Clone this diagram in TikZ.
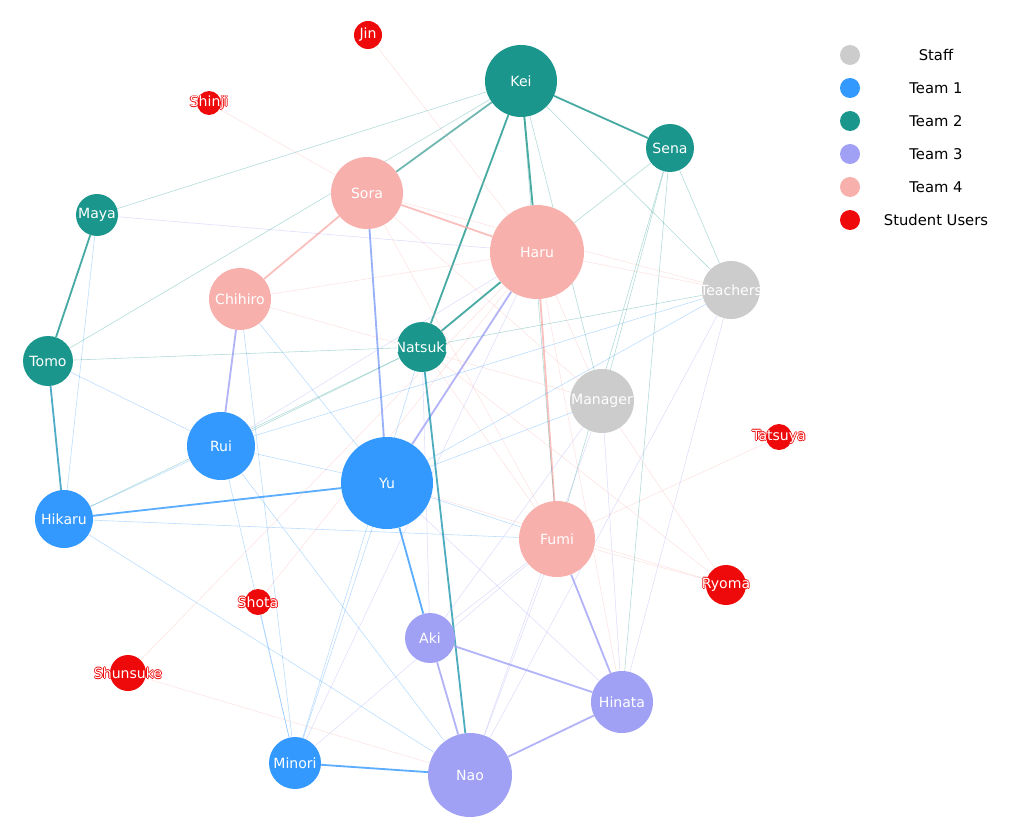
\documentclass[tikz,border=0pt]{standalone}
\usepackage{fontspec}
\setmainfont{DejaVu Sans}
\pgfdeclarelayer{edges}
\pgfsetlayers{edges,main}
\definecolor{staffc}{RGB}{204,204,204}
\definecolor{teamA}{RGB}{51,153,255}
\definecolor{teamB}{RGB}{26,150,140}
\definecolor{teamC}{RGB}{160,160,245}
\definecolor{teamD}{RGB}{248,176,172}
\definecolor{userc}{RGB}{238,10,10}
\tikzset{
  member/.style={circle, draw=none, inner sep=0pt,
    label={[text=white, font=\fontsize{10}{12}\selectfont]center:#1}},
  sz/.style={minimum size=#1*0.5mm},
  staff/.style={member=#1, fill=staffc},
  t1/.style={member=#1, fill=teamA},
  t2/.style={member=#1, fill=teamB},
  t3/.style={member=#1, fill=teamC},
  t4/.style={member=#1, fill=teamD},
  halo/.style={font=\fontsize{10}{12}\selectfont, text=userc},
  usr/.style={circle, draw=none, inner sep=0pt, fill=userc,
    label={[halo, xshift=0.6pt]center:#1},
    label={[halo, xshift=-0.6pt]center:#1},
    label={[halo, yshift=0.6pt]center:#1},
    label={[halo, yshift=-0.6pt]center:#1},
    label={[text=white, font=\fontsize{10}{12}\selectfont]center:#1}},
  tie/.style={line width=1.3pt, draw opacity=0.8},
  weak/.style={line width=0.4pt, draw opacity=0.35},
  key/.style={circle, inner sep=0pt, minimum size=5mm},
  keytext/.style={font=\fontsize{10.5}{12}\selectfont, anchor=center}
}
\begin{document}
\begin{tikzpicture}[x=0.25mm, y=-0.25mm]
  \useasboundingbox (0,0) rectangle (1024,833);

  % members
  \node[usr=Jin, sz=14] (Jin) at (368,35) {};
  \node[usr=Shinji, sz=12] (Shinji) at (209,103) {};
  \node[t2=Kei, sz=36] (Kei) at (521,81) {};
  \node[t2=Sena, sz=24] (Sena) at (670,148) {};
  \node[t4=Sora, sz=36] (Sora) at (367,193) {};
  \node[t2=Maya, sz=21] (Maya) at (97,215) {};
  \node[t4=Haru, sz=47] (Haru) at (537,252) {};
  \node[staff=Teachers, sz=29] (Teachers) at (731,290) {};
  \node[t4=Chihiro, sz=31] (Chihiro) at (240,299) {};
  \node[t2=Tomo, sz=25] (Tomo) at (48,361) {};
  \node[t2=Natsuki, sz=25] (Natsuki) at (422,347) {};
  \node[staff=Manager, sz=32] (Manager) at (602,401) {};
  \node[usr=Tatsuya, sz=13] (Tatsuya) at (779,437) {};
  \node[t1=Rui, sz=34] (Rui) at (221,446) {};
  \node[t1=Yu, sz=46] (Yu) at (387,483) {};
  \node[t1=Hikaru, sz=29] (Hikaru) at (64,519) {};
  \node[t4=Fumi, sz=38] (Fumi) at (557,539) {};
  \node[usr=Ryoma, sz=20] (Ryoma) at (726,585) {};
  \node[usr=Shota, sz=13] (Shota) at (258,602) {};
  \node[t3=Aki, sz=25] (Aki) at (430,638) {};
  \node[usr=Shunsuke, sz=18] (Shunsuke) at (128,673) {};
  \node[t3=Hinata, sz=31] (Hinata) at (622,702) {};
  \node[t1=Minori, sz=26] (Minori) at (295,763) {};
  \node[t3=Nao, sz=42] (Nao) at (470,775) {};

  % ties
  \begin{pgfonlayer}{edges}
    \foreach \a/\b/\c in {Kei/Sena/teamB, Kei/Sora/teamB!70!staffc, Kei/Haru/teamB, Kei/Natsuki/teamB,
      Maya/Tomo/teamB, Tomo/Hikaru/teamB!60!teamA, Hikaru/Yu/teamA, Sora/Yu/teamC!70!teamA,
      Sora/Chihiro/teamD, Sora/Haru/teamD, Chihiro/Rui/teamC, Yu/Haru/teamC, Yu/Aki/teamA,
      Natsuki/Nao/teamB!70!teamA, Haru/Fumi/teamD, Fumi/Hinata/teamC, Aki/Hinata/teamC,
      Aki/Nao/teamC, Nao/Hinata/teamC, Minori/Nao/teamA, Natsuki/Haru/teamB}
      \draw[tie, \c] (\a) -- (\b);
    \foreach \a/\b/\c in {Jin/Haru/teamD, Shinji/Sora/teamD, Tatsuya/Fumi/teamD, Ryoma/Manager/teamD,
      Ryoma/Fumi/teamD, Ryoma/Natsuki/teamD, Ryoma/Yu/teamD, Shunsuke/Haru/teamD, Shunsuke/Nao/teamD,
      Shota/Minori/teamA, Shota/Haru/teamD, Maya/Kei/teamB, Maya/Haru/teamC, Maya/Hikaru/teamA,
      Tomo/Kei/teamB, Tomo/Rui/teamA, Tomo/Natsuki/teamB, Chihiro/Haru/teamD, Chihiro/Minori/teamA,
      Chihiro/Yu/teamA, Chihiro/Manager/teamD, Rui/Yu/teamA, Rui/Haru/teamC, Rui/Minori/teamA,
      Rui/Nao/teamA, Rui/Teachers/teamA, Rui/Natsuki/teamB, Hikaru/Rui/teamA, Hikaru/Fumi/teamA,
      Hikaru/Nao/teamA, Hikaru/Natsuki/teamB, Yu/Teachers/teamA, Yu/Manager/teamA, Yu/Fumi/teamA,
      Yu/Hinata/teamC, Yu/Minori/teamA, Sora/Manager/teamD, Sora/Teachers/teamD, Sora/Fumi/teamD,
      Kei/Teachers/teamB, Kei/Manager/teamB, Kei/Fumi/teamB, Sena/Teachers/teamB, Sena/Fumi/teamB,
      Sena/Hinata/teamB, Sena/Manager/teamB, Sena/Haru/teamB, Teachers/Hinata/teamC, Teachers/Nao/teamC,
      Teachers/Haru/teamD, Teachers/Natsuki/teamB, Manager/Haru/teamD, Manager/Hinata/teamC,
      Manager/Nao/teamC, Manager/Aki/teamC, Natsuki/Aki/teamC, Natsuki/Minori/teamA, Fumi/Nao/teamC,
      Fumi/Aki/teamC, Fumi/Minori/teamC, Haru/Hinata/teamD, Haru/Minori/teamC, Natsuki/Fumi/teamD}
      \draw[weak, \c] (\a) -- (\b);
  \end{pgfonlayer}

  % legend
  \foreach \c/\t [count=\i] in {staffc/Staff, teamA/Team 1, teamB/Team 2, teamC/Team 3, teamD/Team 4, userc/Student Users}
  {
    \node[key, fill=\c] (k\i) at (850,22+33*\i) {};
    \node[keytext] (l\i) at (936,22+33*\i) {\t};
  }
\end{tikzpicture}
\end{document}
